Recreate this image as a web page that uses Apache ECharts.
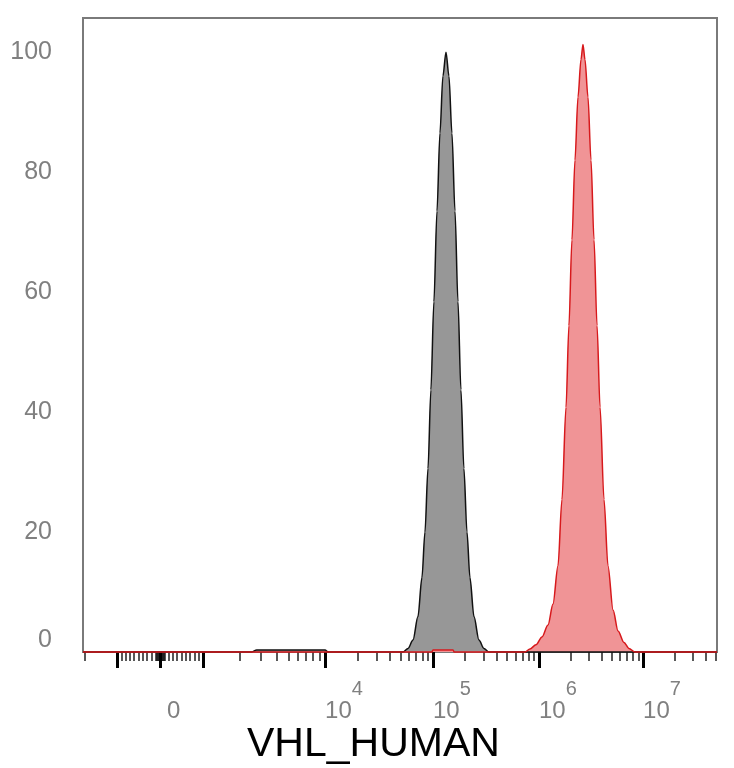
<!DOCTYPE html>
<html lang="en">
<head>
    <meta charset="UTF-8">
    <title>VHL_HUMAN</title>
    <script src="https://cdn.jsdelivr.net/npm/echarts@6.0.0/dist/echarts.min.js"></script>
    <style>
        html, body { margin: 0; padding: 0; background: #fff; }
        #chart { width: 734px; height: 768px; }
    </style>
</head>
<body>
<div id="chart"></div>
<script type="text/javascript">
    // histogram bins: log10 of intensity, % of max
    var greyLog = [3.40, 3.44, 4.00, 4.03,
        4.722, 4.769, 4.815, 4.861, 4.898, 4.926, 4.954, 4.981, 5.009, 5.038, 5.066, 5.094,
        5.123, 5.151, 5.179, 5.208, 5.236, 5.264, 5.292, 5.321, 5.349, 5.387, 5.434, 5.481, 5.528];
    var greyCount = [0, 0.35, 0.35, 0,
        0, 0.6, 2, 5.9, 12.4, 20, 30.6, 43.7, 58.4, 73.5, 86.5, 96,
        100, 96, 86.5, 73.5, 58.4, 43.7, 30.6, 20, 12.4, 5.9, 2, 0.6, 0];

    var redLog = [4.99, 5.00, 5.19, 5.20,
        5.868, 5.915, 5.972, 6.029, 6.087, 6.135, 6.183, 6.221, 6.260, 6.288, 6.317, 6.346, 6.375, 6.404,
        6.423, 6.442, 6.471, 6.500, 6.529, 6.558, 6.587, 6.625, 6.663, 6.712, 6.760, 6.817, 6.865, 6.923];
    var redCount = [0, 0.35, 0.35, 0,
        0, 0.5, 1.2, 2.5, 4.5, 8, 14.4, 25.4, 40.8, 54.4, 68.7, 82, 92.5, 98.8,
        101.3, 98.8, 92.5, 82, 68.7, 54.4, 40.8, 25.4, 14.4, 7, 3.5, 1.6, 0.6, 0];

    // axis labels
    var labelValues = [0, 1e4, 1e5, 1e6, 1e7];
    var labelExps = ['', '4', '5', '6', '7'];
    var majorTicks = [-1e3, 0, 1e3, 1e4, 1e5, 1e6, 1e7];
    var yTicks = [0, 20, 40, 60, 80, 100];

    // biexponential display scale (linear below 1000, log above)
    var linTop = 1e3, linPos = 0.406;
    var posAnchors = [[3, 0.406], [4, 1.557], [5, 2.575], [6, 3.575], [7, 4.557]];
    var negAnchors = [[3, 0.406], [4, 1.400]];
    var xMin = -0.7264, xMax = 5.2547;

    function biex(v) {
        if (Math.abs(v) <= linTop) return v / linTop * linPos;
        var a = v > 0 ? posAnchors : negAnchors;
        var l = Math.log10(Math.abs(v));
        var i = 0;
        while (i < a.length - 2 && l > a[i + 1][0]) i++;
        var p = a[i][1] + (l - a[i][0]) * (a[i + 1][1] - a[i][1]) / (a[i + 1][0] - a[i][0]);
        return v > 0 ? p : -p;
    }

    function buildSeries(logs, counts) {
        var d = [[xMin, 0]];
        for (var i = 0; i < logs.length; i++) {
            d.push([biex(Math.pow(10, logs[i])), counts[i]]);
        }
        d.push([xMax, 0]);
        return d;
    }

    function minorTicks() {  // m x 10^k on both sides, skipping the major ones
        var t = [];
        for (var k = 1; k <= 7; k++) {
            for (var m = 1; m <= 9; m++) {
                var v = m * Math.pow(10, k);
                [v, -v].forEach(function (s) {
                    if (majorTicks.indexOf(s) >= 0) return;
                    var p = biex(s);
                    if (p >= xMin && p <= xMax) t.push(p);
                });
            }
        }
        return t;
    }

    var font = 'Liberation Sans, Arial, sans-serif';
    var grey = '#808080';

    var chart = echarts.init(document.getElementById('chart'));
    var option = {
        animation: false,
        grid: {
            left: 83, right: 17, top: 18, bottom: 116,
            show: true, borderColor: '#7a7a7a', borderWidth: 2,
            outerBoundsMode: 'none'
        },
        xAxis: [{
            type: 'value', min: xMin, max: xMax, position: 'bottom',
            splitLine: {show: false},
            axisLine: {show: true, lineStyle: {color: '#7a7a7a', width: 2}},
            axisTick: {show: true, customValues: minorTicks(), length: 9, lineStyle: {color: '#222', width: 1.5}},
            axisLabel: {show: false}
        }, {
            type: 'value', min: xMin, max: xMax, position: 'bottom', offset: 0,
            splitLine: {show: false},
            axisLine: {show: false},
            axisTick: {show: true, customValues: majorTicks.map(biex), length: 16, lineStyle: {color: '#000', width: 3}},
            axisLabel: {
                show: true,
                customValues: labelValues.map(biex),
                margin: 27,
                align: 'left',
                formatter: function (val, idx) {
                    var i = idx;
                    for (var j = 0; j < labelValues.length; j++) {
                        if (Math.abs(biex(labelValues[j]) - val) < 1e-6) i = j;
                    }
                    if (labelExps[i] === '') return '{z|0}';
                    return '{b|10}{s|' + labelExps[i] + '}';
                },
                rich: {
                    b: {fontSize: 24, lineHeight: 24, color: grey, fontFamily: font, verticalAlign: 'bottom'},
                    s: {fontSize: 20, color: grey, fontFamily: font, verticalAlign: 'top', padding: [0, 0, 24, 0]},
                    z: {fontSize: 24, color: grey, fontFamily: font, padding: [20, 0, 0, 7]}
                }
            }
        }],
        yAxis: {
            type: 'value', min: 0, max: 105.7, interval: 20,
            splitLine: {show: false},
            axisLine: {show: false},
            axisTick: {show: false},
            axisLabel: {
                margin: 31,
                color: grey, fontSize: 25, fontFamily: font,
                customValues: yTicks,
                formatter: function (v) { return v === 0 ? '{z|0}' : String(v); },
                rich: {
                    z: {fontSize: 25, color: grey, fontFamily: font, padding: [0, 0, 24, 0]}
                }
            }
        },
        series: [{
            name: 'control', type: 'line', xAxisIndex: 0,
            data: buildSeries(greyLog, greyCount),
            showSymbol: false, symbol: 'none',
            smooth: 0.3, smoothMonotone: 'x', clip: false,
            lineStyle: {color: '#111', width: 1.5},
            areaStyle: {color: '#979797', opacity: 1}
        }, {
            name: 'VHL_HUMAN', type: 'line', xAxisIndex: 0,
            data: buildSeries(redLog, redCount),
            showSymbol: false, symbol: 'none',
            smooth: 0.3, smoothMonotone: 'x', clip: false,
            lineStyle: {color: '#d7191c', width: 1.5},
            areaStyle: {color: '#f09496', opacity: 1}
        }],
        graphic: [{
            type: 'text', x: 247, y: 745,
            style: {text: 'VHL_HUMAN', fontSize: 41, fontFamily: font, fill: '#000', align: 'left', verticalAlign: 'middle'}
        }]
    };
    chart.setOption(option);
</script>
</body>
</html>
